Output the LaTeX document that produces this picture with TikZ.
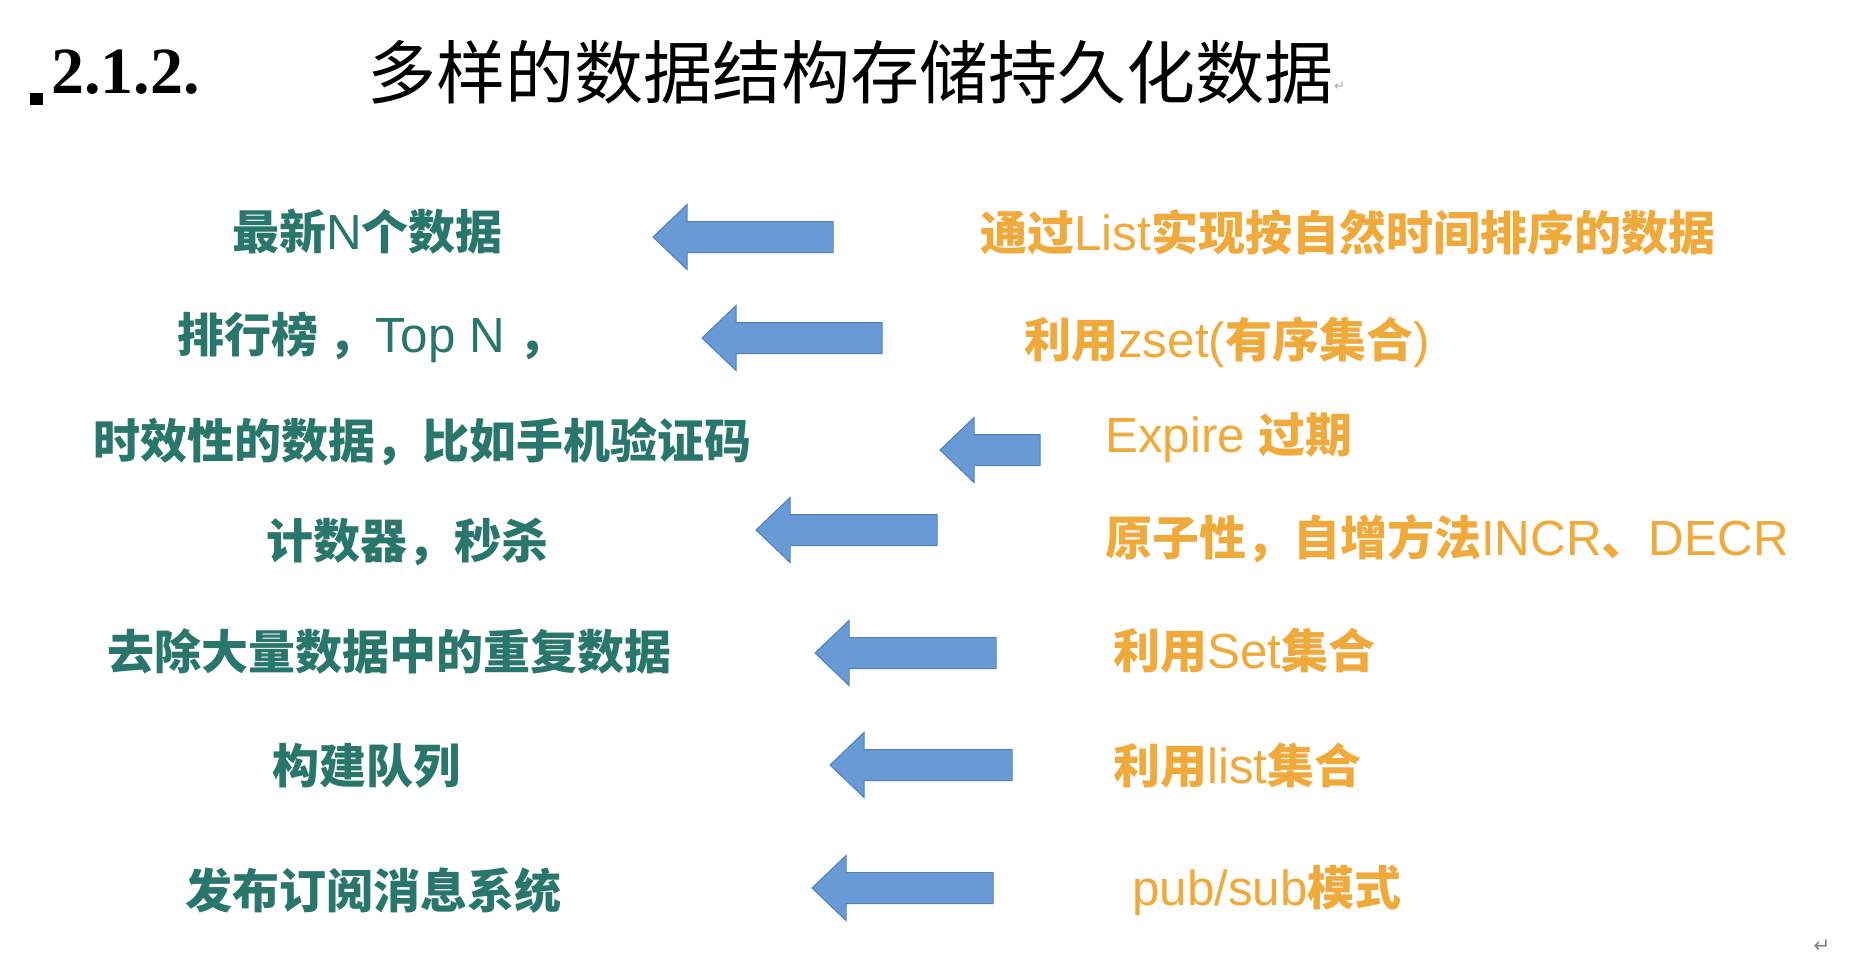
\documentclass[tikz,border=0pt]{standalone}
\usepackage{fontspec}
\newfontfamily\cjkf{Noto Sans CJK SC}
\newfontfamily\latf[Scale=1.05]{Liberation Sans}
\newfontfamily\numf{Liberation Serif}
\newfontfamily\symf{DejaVu Sans}
\definecolor{tealc}{RGB}{40,118,108}
\definecolor{orangec}{RGB}{240,169,59}
\definecolor{arrfill}{RGB}{104,154,214}
\definecolor{arrline}{RGB}{82,128,190}
\newcommand\ltn[1]{{\latf\mdseries #1}}
\newcommand\blockarr[4]{%
  \path[blockarrow] (#2,#4) -- (#2+34,#4-32.5) -- (#2+34,#4-15.5) -- (#3,#4-15.5)
    -- (#3,#4+15.5) -- (#2+34,#4+15.5) -- (#2+34,#4+32.5) -- cycle;
  \coordinate (#1) at (#2,#4);}
\tikzset{
  lefttext/.style={anchor=base west, inner sep=0pt, text=tealc,
    font=\cjkf\bfseries\fontsize{47}{56}\selectfont},
  righttext/.style={anchor=base west, inner sep=0pt, text=orangec,
    font=\cjkf\bfseries\fontsize{47}{56}\selectfont},
  blockarrow/.style={fill=arrfill, draw=arrline, line width=1pt, line join=miter},
  retmark/.style={inner sep=0pt, text=gray, font=\symf},
}
\begin{document}
\begin{tikzpicture}[x=1pt,y=-1pt]
\useasboundingbox (0,0) rectangle (1866,972);
\fill[white] (0,0) rectangle (1866,972);
% heading
\fill[black] (30,93) rectangle (43,105);
\node[anchor=base west, inner sep=0pt, font=\numf\bfseries\fontsize{66}{70}\selectfont] (num) at (51,93) {2.1.2.};
\node[anchor=base west, inner sep=0pt, font=\cjkf\fontsize{69}{76}\selectfont] (title) at (367,98) {多样的数据结构存储持久化数据};
\node[retmark, anchor=base west, font=\symf\fontsize{13}{14}\selectfont, text=gray!70] (ret1) at (1334,90) {↵};
% left column
\node[lefttext] (l1) at (232,249) {最新\ltn{N}个数据};
\node[lefttext] (l2) at (177,352) {排行榜 ，\ltn{Top N }，};
\node[lefttext] (l3) at (93,458) {时效性的数据，比如手机验证码};
\node[lefttext] (l4) at (266,558) {计数器，秒杀};
\node[lefttext] (l5) at (107,669) {去除大量数据中的重复数据};
\node[lefttext] (l6) at (272,783) {构建队列};
\node[lefttext] (l7) at (185,908) {发布订阅消息系统};
% right column
\node[righttext] (r1) at (980,250) {通过\ltn{List}实现按自然时间排序的数据};
\node[righttext] (r2) at (1024,357) {利用\ltn{zset(}有序集合\ltn{)}};
\node[righttext] (r3) at (1105,452) {\ltn{Expire }过期};
\node[righttext] (r4) at (1105,555) {原子性，自增方法\ltn{INCR}、\ltn{DECR}};
\node[righttext] (r5) at (1113,668) {利用\ltn{Set}集合};
\node[righttext] (r6) at (1113,783) {利用\ltn{list}集合};
\node[righttext] (r7) at (1132,905) {\ltn{pub/sub}模式};
% arrows
\blockarr{a1}{653}{833}{237}
\blockarr{a2}{702}{882}{338}
\blockarr{a3}{940}{1040}{450}
\blockarr{a4}{756}{937}{530}
\blockarr{a5}{815}{996}{653}
\blockarr{a6}{830}{1012}{765}
\blockarr{a7}{812}{993}{888}
\node[retmark, font=\symf\fontsize{20}{22}\selectfont] (ret2) at (1822,946) {↵};
\end{tikzpicture}
\end{document}
